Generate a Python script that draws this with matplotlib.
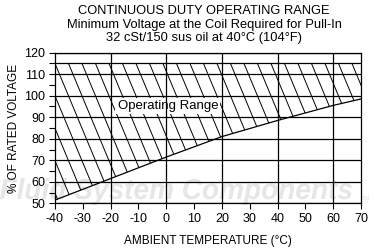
import numpy as np
import matplotlib
matplotlib.use("Agg")
import matplotlib.pyplot as plt
from matplotlib.textpath import TextPath
from matplotlib.patches import PathPatch
from matplotlib.font_manager import FontProperties
from matplotlib.transforms import Affine2D

plt.rcParams['font.family'] = ['Liberation Sans', 'DejaVu Sans']
plt.rcParams['axes.unicode_minus'] = False

# data
temp_c = [-40, -20, 0, 20, 40, 60, 70]
min_pull_in = [51.5, 61.5, 71.5, 81, 88.5, 95.5, 98.5]
max_voltage = 115

title_lines = ["CONTINUOUS DUTY OPERATING RANGE",
               "Minimum Voltage at the Coil Required for Pull-In",
               "32 cSt/150 sus oil at 40\u00b0C (104\u00b0F)"]
x_ticks = list(range(-40, 71, 10))
y_ticks = list(range(50, 121, 10))
x_grid = [-20, 0, 20, 40, 60]

fig = plt.figure(figsize=(3.75, 2.5), dpi=100)
ax = fig.add_axes([55 / 375, 1 - 203.3 / 250, 306 / 375, 150.6 / 250])
ax.patch.set_facecolor('none')

# faint watermark behind the chart
wm_prop = FontProperties(family='Liberation Sans', weight='bold', style='italic')
tp = TextPath((0, 0), "Fluid System Components", size=10, prop=wm_prop)
ext = tp.get_extents()
sx = (352 / 375) / ext.width
sy = (27 / 250) / ext.height
wm = PathPatch(tp, transform=Affine2D().translate(-ext.x0, -ext.y0).scale(sx, sy).translate(0.0, 1 - 205 / 250) + fig.transFigure,
               facecolor='#e6e6e6', edgecolor='none', zorder=-5)
fig.add_artist(wm)
fig.text(362 / 375, 1 - 200 / 250, "TM", fontsize=4, color='#dddddd', zorder=-5)

# operating band
band = ax.fill_between(temp_c, min_pull_in, max_voltage, facecolor='none', edgecolor='none')
ax.plot(temp_c, min_pull_in, color='black', lw=0.9, zorder=3)
ax.axhline(max_voltage, color='black', lw=0.9, zorder=3)

# steep diagonal hatching, clipped to the band
w_px, h_px = 306.0, 150.6
slope = 2.4 * w_px / h_px
step = 13.5 / w_px
for x0 in np.arange(-0.5, 1.05, step):
    ln, = ax.plot([x0, x0 + 1.2 / slope], [1.0, -0.2], transform=ax.transAxes,
                  color='black', lw=0.7, zorder=2)
    ln.set_clip_path(band.get_paths()[0], ax.transData)

ax.text(-17.5, 95.2, "Operating Range", fontsize=9.5, va='center', ha='left', zorder=2.4,
        bbox=dict(facecolor='white', edgecolor='none', pad=1.5))

ax.set_xlim(-40, 70)
ax.set_ylim(50, 120)
ax.set_xticks(x_ticks)
ax.set_yticks(y_ticks)
ax.set_yticks(range(55, 120, 10), minor=True)
ax.tick_params(which='both', direction='out', length=4, width=0.8, labelsize=9, pad=3, colors='black')
ax.yaxis.grid(True, color='black', lw=0.9)
for xg in x_grid:
    ax.axvline(xg, color='black', lw=0.9, zorder=3)
ax.set_axisbelow(False)
for s in ax.spines.values():
    s.set_linewidth(0.9)

ax.set_xlabel("AMBIENT TEMPERATURE (\u00b0C)", fontsize=8.5, labelpad=7)
ax.set_ylabel("% OF RATED VOLTAGE", fontsize=8.5, labelpad=3)

for i, line in enumerate(title_lines):
    fig.text(204 / 375, 1 - (11.5 + 13.3 * i) / 250, line, ha='center', va='center', fontsize=9.3)

fig.savefig("out.png", dpi=100)
